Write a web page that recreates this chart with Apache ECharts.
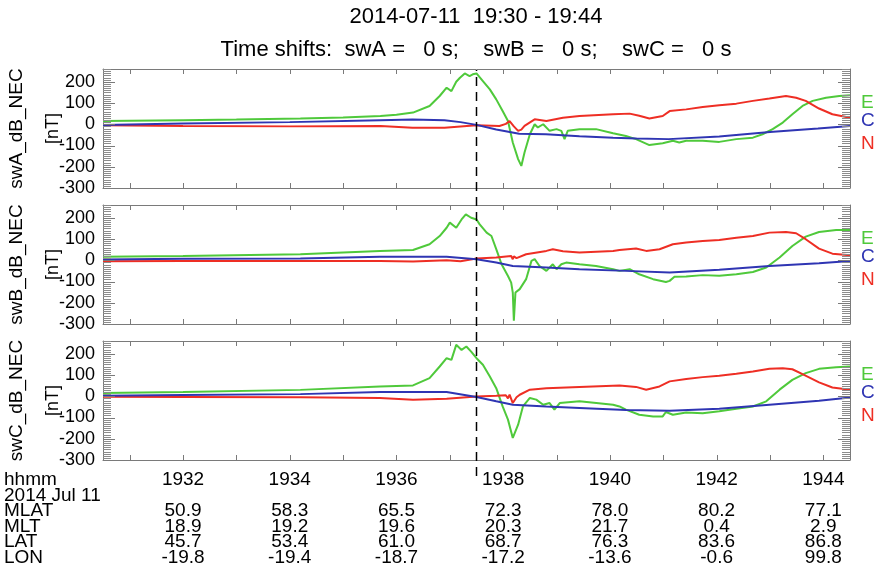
<!DOCTYPE html>
<html>
<head>
<meta charset="utf-8">
<script src="https://cdn.jsdelivr.net/npm/echarts@6/dist/echarts.min.js"></script>
<style>
html,body{margin:0;padding:0;background:#fff;}
#chart{width:880px;height:571px;}
</style>
</head>
<body>
<div id="chart"></div>
<script>
// ---- time axis (minutes after 19:00) ----
const xMin = 30.5, xMax = 44.5;
const minuteTicks = [31,32,33,34,35,36,37,38,39,40,41,42,43,44];
const labelTimes = [32,34,36,38,40,42,44];
const hhmmLabels = ['1932','1934','1936','1938','1940','1942','1944'];
const MLAT = [50.9,58.3,65.5,72.3,78.0,80.2,77.1];
const MLT  = [18.9,19.2,19.6,20.3,21.7,0.4,2.9];
const LAT  = [45.7,53.4,61.0,68.7,76.3,83.6,86.8];
const LON  = [-19.8,-19.4,-18.7,-17.2,-13.6,-0.6,99.8];
const rowNames = ['hhmm','2014 Jul 11','MLAT','MLT','LAT','LON'];
const dashTime = 37.5;
const yTicks = [-300,-200,-100,0,100,200];
const panelNames = ['swA_dB_NEC','swB_dB_NEC','swC_dB_NEC'];
const compNames = ['E','C','N'];

// ---- swA ----
const tA_E = [30.5,32,33,34.2,35,35.7,36.0,36.31,36.62,36.81,36.94,37.03,37.12,37.19,37.28,37.37,37.43,37.5,37.62,37.75,37.87,37.99,38.09,38.18,38.28,38.34,38.4,38.5,38.59,38.65,38.75,38.87,39.0,39.09,39.15,39.21,39.43,39.74,40.06,40.3,40.49,40.74,40.99,41.18,41.3,41.43,41.74,42.05,42.37,42.68,42.86,43.05,43.24,43.42,43.61,43.8,44.05,44.3,44.5];
const vA_E = [15,19,22,27,32,39,45,55,86,133,172,156,200,219,239,227,235,239,203,164,117,62,15,-86,-164,-196,-133,-47,0,-15,0,-31,-23,-31,-70,-31,-23,-23,-42,-55,-70,-98,-89,-78,-86,-78,-78,-83,-70,-63,-47,-23,8,47,86,110,125,133,136];
const tA_N = [30.5,32,34,35.7,36.3,36.9,37.5,37.93,38.05,38.12,38.2,38.28,38.34,38.4,38.59,38.81,39.12,39.43,40.06,40.37,40.55,40.74,40.99,41.12,41.43,41.74,42.05,42.37,42.68,42.99,43.3,43.49,43.67,43.92,44.17,44.5];
const vA_N = [-5,-8,-10,-8,-16,-16,-5,-8,2,15,-10,-31,-25,-8,23,15,31,39,47,50,40,27,39,62,70,81,89,97,110,121,133,125,110,74,47,31];
const tA_C = [30.5,32,34,35.7,36.3,36.9,37.2,37.5,37.87,38.3,38.8,39.43,40.06,40.5,41.1,42.05,43.0,43.9,44.5];
const vA_C = [-3,3,10,19,22,19,10,-3,-25,-45,-47,-56,-63,-67,-70,-58,-36,-20,-8];

// ---- swB ----
const tB_E = [30.5,32,34.2,35.69,36.31,36.62,36.81,36.94,37.0,37.12,37.22,37.3,37.4,37.5,37.56,37.69,37.78,37.87,37.97,38.09,38.15,38.18,38.2,38.23,38.31,38.43,38.53,38.59,38.68,38.81,38.93,39.0,39.09,39.18,39.43,39.74,40.06,40.18,40.37,40.55,40.81,41.05,41.12,41.21,41.43,41.74,42.05,42.37,42.68,42.93,43.18,43.42,43.67,43.92,44.24,44.5];
const vB_E = [17,20,28,44,48,75,114,153,177,153,192,216,200,192,169,130,114,52,-19,-74,-105,-152,-285,-152,-136,-89,-3,5,-27,-50,-19,-42,-19,-11,-19,-27,-42,-50,-42,-66,-89,-102,-97,-78,-77,-70,-73,-66,-55,-34,13,67,111,133,142,142];
const tB_N = [30.5,32,34.2,35.69,36.31,36.94,37.2,37.5,37.87,38.15,38.18,38.2,38.25,38.43,38.81,38.93,39.12,39.43,40.06,40.18,40.49,40.68,40.93,41.18,41.43,41.74,42.05,42.37,42.68,42.99,43.3,43.49,43.67,43.92,44.17,44.5];
const vB_N = [-5,-3,-3,-3,-6,0,-5,8,13,20,5,18,10,28,44,52,42,36,44,48,55,44,52,75,83,91,95,106,114,130,133,127,99,55,31,23];
const tB_C = [30.5,32,34.2,35.69,36.94,37.5,37.87,38.18,38.81,39.43,40.3,41.12,42.05,42.99,43.92,44.5];
const vB_C = [3,7,8,17,17,5,-11,-27,-34,-42,-50,-58,-45,-27,-14,-3];

// ---- swC ----
const tC_E = [30.5,32,34.2,35.69,36.31,36.62,36.81,36.94,37.03,37.12,37.22,37.31,37.4,37.5,37.62,37.75,37.87,37.99,38.09,38.18,38.28,38.37,38.5,38.62,38.75,38.87,38.96,39.06,39.43,40.06,40.18,40.3,40.55,40.81,40.99,41.05,41.18,41.43,41.74,42.05,42.37,42.68,42.93,43.18,43.42,43.67,43.92,44.24,44.5];
const vC_E = [15,20,30,46,51,85,140,179,171,242,218,234,210,179,148,93,38,-48,-110,-196,-134,-48,-8,-16,-40,-32,-63,-32,-24,-40,-48,-63,-87,-95,-95,-74,-87,-76,-80,-71,-59,-48,-24,31,77,109,129,137,140];
const tC_N = [30.5,32,34.2,35.69,36.31,36.94,37.5,37.87,38.05,38.09,38.12,38.18,38.25,38.31,38.5,38.81,39.43,40.18,40.49,40.68,40.93,41.12,41.43,41.74,42.05,42.37,42.68,42.99,43.24,43.42,43.61,43.92,44.17,44.5];
const vC_N = [-2,-3,-5,-8,-16,-12,-1,2,5,-10,8,-32,-5,7,31,38,44,51,44,31,46,70,81,90,96,106,116,129,132,127,104,65,41,31];
const tC_C = [30.5,32,34.2,35.69,36.94,37.5,37.87,38.18,38.81,39.43,40.3,41.12,42.05,42.99,43.92,44.5];
const vC_C = [2,6,10,20,20,-4,-24,-40,-48,-55,-65,-68,-59,-40,-21,-6];

const panels = [
  {E:[tA_E,vA_E], N:[tA_N,vA_N], C:[tA_C,vA_C]},
  {E:[tB_E,vB_E], N:[tB_N,vB_N], C:[tB_C,vB_C]},
  {E:[tC_E,vC_E], N:[tC_N,vC_N], C:[tC_C,vC_C]}
];

const colors = {E:'#4fc93b', N:'#ee2e24', C:'#2f35b3'};
const FONT = '"Liberation Sans", Arial, Helvetica, sans-serif';
const frame = '#7a7a7a';

const L = 103, R = 30;
const tops = [69, 205, 341];
const H = 119;
const yMin = -300, yMax = 260;
const fineStep = 10;            // nT between fine ticks
const fineTicks = [];
for (let v = yMin; v <= yMax; v += fineStep) fineTicks.push(v);

function zip(t, v){ return t.map((x,i)=>[x, v[i]]); }

const grid = [], xAxis = [], yAxis = [], series = [], graphic = [];

tops.forEach((top, i) => {
  grid.push({left:L, right:R, top:top, height:H});
  const isLast = i === 2;
  const xBase = {
    type:'value', gridIndex:i, min:xMin, max:xMax, interval:1,
    axisLine:{show:true, onZero:false, lineStyle:{color:frame, width:1}},
    axisTick:{show:false},
    splitLine:{show:false}
  };
  xAxis.push(Object.assign({}, xBase, {
    position:'bottom',
    axisLabel:{
      show:isLast, customValues:labelTimes, margin:12, interval:0,
      color:'#000', fontSize:19, fontFamily:FONT, lineHeight:15.6, verticalAlign:'top',
      formatter:(v)=>{
        const k = labelTimes.indexOf(Math.round(v));
        if (k < 0) return '';
        return [hhmmLabels[k], ' ', MLAT[k].toFixed(1), MLT[k].toFixed(1), LAT[k].toFixed(1), LON[k].toFixed(1)].join('\n');
      }
    }
  }));
  xAxis.push(Object.assign({}, xBase, {position:'top', axisLabel:{show:false}}));

  const yBase = {
    type:'value', gridIndex:i, min:yMin, max:yMax, interval:100,
    axisLine:{show:true, onZero:false, lineStyle:{color:frame, width:1}},
    axisTick:{show:false},
    splitLine:{show:false}
  };
  yAxis.push(Object.assign({}, yBase, {
    position:'left',
    axisLabel:{show:true, customValues:yTicks, interval:0, margin:8, color:'#000', fontSize:18, fontFamily:FONT,
      showMinLabel:true, showMaxLabel:true, hideOverlap:false}
  }));
  yAxis.push(Object.assign({}, yBase, {position:'right', axisLabel:{show:false}}));

  ['E','N','C'].forEach(k => {
    series.push({
      type:'line', xAxisIndex:2*i, yAxisIndex:2*i, showSymbol:false, animation:false,
      data: zip(panels[i][k][0], panels[i][k][1]),
      lineStyle:{color:colors[k], width:2}, itemStyle:{color:colors[k]}, z:3
    });
  });

  // y tick combs (both sides), drawn through the panel's scales
  series.push({
    type:'custom', xAxisIndex:2*i, yAxisIndex:2*i, animation:false, silent:true, clip:false, z:4,
    data: fineTicks.map(v => [xMin, v]),
    renderItem:(params, api) => {
      const v = api.value(1);
      const pl = api.coord([xMin, v]);
      const pr = api.coord([xMax, v]);
      const major = yTicks.indexOf(v) >= 0;
      const len = major ? 12 : 8;
      const col = major ? frame : '#8c8c8c';
      const y = Math.round(pl[1]) + 0.5;
      return {type:'group', children:[
        {type:'line', shape:{x1:pl[0], y1:y, x2:pl[0]+len, y2:y}, style:{stroke:col, lineWidth:1}},
        {type:'line', shape:{x1:pr[0]-len, y1:y, x2:pr[0], y2:y}, style:{stroke:col, lineWidth:1}}
      ]};
    }
  });
  // x minute ticks (top and bottom)
  series.push({
    type:'custom', xAxisIndex:2*i, yAxisIndex:2*i, animation:false, silent:true, clip:false, z:4,
    data: minuteTicks.map(t => [t, yMin]),
    renderItem:(params, api) => {
      const t = api.value(0);
      const pb = api.coord([t, yMin]);
      const pt = api.coord([t, yMax]);
      const x = Math.round(pb[0]) + 0.5;
      return {type:'group', children:[
        {type:'line', shape:{x1:x, y1:pb[1], x2:x, y2:pb[1]-5}, style:{stroke:frame, lineWidth:1}},
        {type:'line', shape:{x1:x, y1:pt[1], x2:x, y2:pt[1]+5}, style:{stroke:frame, lineWidth:1}}
      ]};
    }
  });

  // left axis titles
  graphic.push({type:'text', x:17, y:top+H/2, rotation:Math.PI/2,
    style:{text:panelNames[i], fontSize:19, fontFamily:FONT, fill:'#000', align:'center', verticalAlign:'middle'}});
  graphic.push({type:'text', x:53, y:top+H/2, rotation:Math.PI/2,
    style:{text:'[nT]', fontSize:18, fontFamily:FONT, fill:'#000', align:'center', verticalAlign:'middle'}});
  // right component labels
  const offs = [34, 52, 75];
  compNames.forEach((c, j) => {
    graphic.push({type:'text', x:861, y:top+offs[j],
      style:{text:c, fontSize:19, fontFamily:FONT, fill:colors[c], align:'left', verticalAlign:'middle'}});
  });
});

// overlay grid for the dashed time marker spanning all panels
grid.push({left:L, right:R, top:70, height:406});
xAxis.push({type:'value', gridIndex:3, min:xMin, max:xMax, show:false});
yAxis.push({type:'value', gridIndex:3, min:0, max:1, show:false});
series.push({
  type:'line', xAxisIndex:6, yAxisIndex:6, showSymbol:false, animation:false,
  data:[[dashTime,0],[dashTime,1]],
  lineStyle:{color:'#000', width:1.5, type:[9,6]}, z:5
});

// titles and table row names
graphic.push({type:'text', x:476, y:17,
  style:{text:'2014-07-11  19:30 - 19:44', fontSize:22, fontFamily:FONT, fill:'#000', align:'center', verticalAlign:'middle'}});
graphic.push({type:'text', x:476, y:50,
  style:{text:'Time shifts:  swA =   0 s;    swB =   0 s;    swC =   0 s', fontSize:22, fontFamily:FONT, fill:'#000', align:'center', verticalAlign:'middle'}});
graphic.push({type:'text', x:4, y:472,
  style:{text:rowNames.join('\n'), fontSize:19, lineHeight:15.6, fontFamily:FONT, fill:'#000', align:'left', verticalAlign:'top'}});

const chart = echarts.init(document.getElementById('chart'), null, {renderer:'canvas'});
chart.setOption({
  animation:false,
  backgroundColor:'#fff',
  grid, xAxis, yAxis, series, graphic
});
</script>
</body>
</html>
